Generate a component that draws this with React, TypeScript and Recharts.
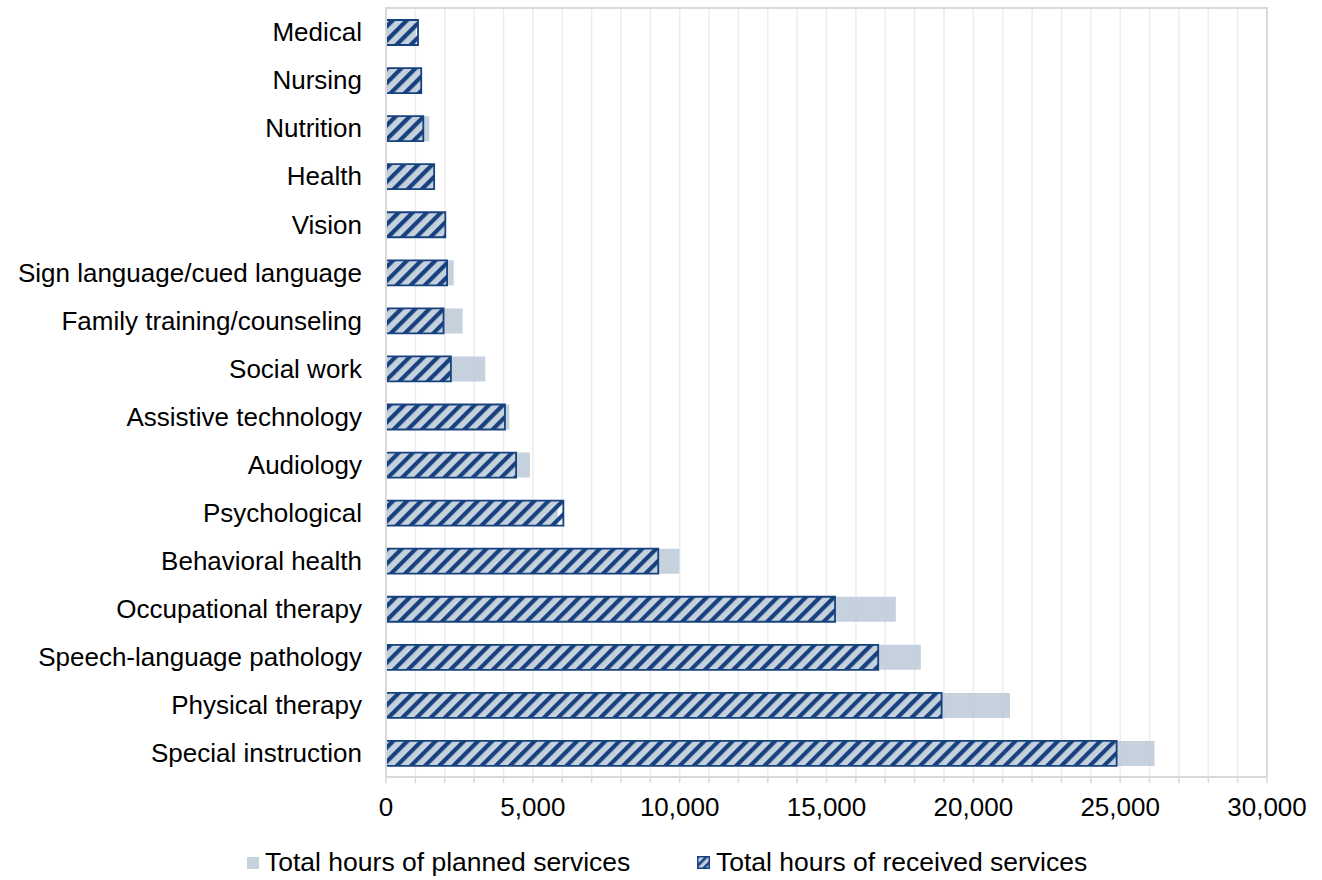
import { BarChart, Bar, XAxis, YAxis, CartesianGrid, Legend, ReferenceArea } from "recharts";

const categories = [
  "Medical",
  "Nursing",
  "Nutrition",
  "Health",
  "Vision",
  "Sign language/cued language",
  "Family training/counseling",
  "Social work",
  "Assistive technology",
  "Audiology",
  "Psychological",
  "Behavioral health",
  "Occupational therapy",
  "Speech-language pathology",
  "Physical therapy",
  "Special instruction",
];

const plannedHours = [1010, 1200, 1475, 1640, 2020, 2305, 2610, 3380, 4200, 4900, 5850, 9990, 17360, 18210, 21250, 26170];
const receivedHours = [1090, 1200, 1270, 1640, 2020, 2080, 1960, 2210, 4050, 4430, 6040, 9270, 15290, 16760, 18920, 24880];

const minorTicks = [
  0, 1000, 2000, 3000, 4000, 5000, 6000, 7000, 8000, 9000, 10000, 11000, 12000, 13000, 14000, 15000,
  16000, 17000, 18000, 19000, 20000, 21000, 22000, 23000, 24000, 25000, 26000, 27000, 28000, 29000, 30000,
];
const majorTicks = [0, 5000, 10000, 15000, 20000, 25000, 30000];

const data = categories.map((name, i) => ({
  name,
  planned: plannedHours[i],
  received: receivedHours[i],
}));

const FONT = "'Liberation Sans', Arial, Helvetica, sans-serif";
const NAVY = "#17427f";
const PLANNED = "#c5d1dd";

function HatchSwatch() {
  return (
    <svg width={13} height={13} style={{ display: "block" }}>
      <defs>
        <pattern id="hatch-key" patternUnits="userSpaceOnUse" width="6" height="6" patternTransform="rotate(45)">
          <rect x="0" y="0" width="2.6" height="6" fill={NAVY} />
        </pattern>
      </defs>
      <rect x={0.75} y={0.75} width={11.5} height={11.5} fill={PLANNED} />
      <rect x={0.75} y={0.75} width={11.5} height={11.5} fill="url(#hatch-key)" stroke={NAVY} strokeWidth={1.5} />
    </svg>
  );
}

function LegendContent() {
  const item: React.CSSProperties = {
    position: "absolute",
    top: 4,
    height: 43,
    display: "flex",
    alignItems: "center",
    fontFamily: FONT,
    fontSize: 26.5,
    color: "#000",
    whiteSpace: "nowrap",
  };
  return (
    <div style={{ position: "relative", height: 43, width: 1322 }}>
      <div style={{ ...item, left: 247 }}>
        <span style={{ width: 12, height: 12, background: PLANNED, marginRight: 6, display: "inline-block" }} />
        Total hours of planned services
      </div>
      <div style={{ ...item, left: 697 }}>
        <span style={{ marginRight: 6 }}>
          <HatchSwatch />
        </span>
        Total hours of received services
      </div>
    </div>
  );
}

export default function App() {
  return (
    <div style={{ width: 1322, height: 880 }}>
      <style>{"body{margin:0}"}</style>
      <BarChart
        width={1322}
        height={880}
        data={data}
        layout="vertical"
        margin={{ top: 8, right: 55, bottom: 0, left: 0 }}
        barGap={-25}
      >
        <defs>
          <pattern id="hatch" patternUnits="userSpaceOnUse" width="10" height="10" patternTransform="rotate(45)">
            <rect x="0" y="0" width="4.2" height="10" fill={NAVY} />
          </pattern>
        </defs>
        <CartesianGrid horizontal={false} stroke="#ececec" strokeWidth={1.5} />
        <CartesianGrid horizontal={false} xAxisId="major" stroke="#d9d9d9" strokeWidth={1.5} />
        <XAxis
          type="number"
          domain={[0, 30000]}
          ticks={minorTicks}
          interval={0}
          tickFormatter={(v: number) => (v % 5000 === 0 ? v.toLocaleString("en-US") : "")}
          height={60}
          tickSize={6}
          tickMargin={15}
          axisLine={{ stroke: "#d9d9d9", strokeWidth: 2 }}
          tickLine={{ stroke: "#d9d9d9", strokeWidth: 1.5 }}
          tick={{ fill: "#000", fontSize: 26, fontFamily: FONT }}
        />
        <XAxis xAxisId="major" type="number" domain={[0, 30000]} ticks={majorTicks} hide />
        <YAxis
          type="category"
          dataKey="name"
          width={386}
          interval={0}
          tickLine={false}
          tickSize={6}
          tickMargin={18}
          axisLine={{ stroke: "#d9d9d9", strokeWidth: 2 }}
          tick={{ fill: "#000", fontSize: 26, fontFamily: FONT }}
        />
        <ReferenceArea x1={0} x2={30000} fill="none" stroke="#d9d9d9" strokeWidth={2} />
        <Bar dataKey="planned" fill="#bbc9d7" fillOpacity={0.85} barSize={25} isAnimationActive={false} />
        <Bar
          dataKey="received"
          fill="url(#hatch)"
          stroke={NAVY}
          strokeWidth={1.8}
          barSize={25}
          isAnimationActive={false}
        />
        <Legend verticalAlign="bottom" wrapperStyle={{ left: 0, width: 1322 }} content={() => <LegendContent />} />
      </BarChart>
    </div>
  );
}
